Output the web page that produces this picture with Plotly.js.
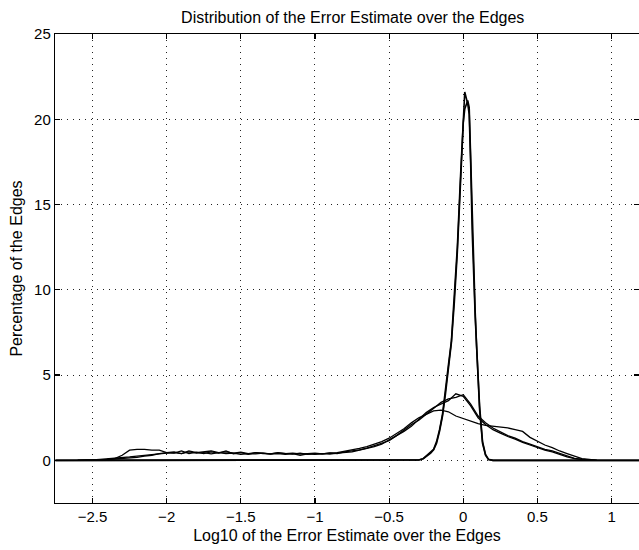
<!DOCTYPE html>
<html><head><meta charset="utf-8">
<script src="https://cdn.plot.ly/plotly-3.0.1.min.js"></script>
<style>html,body{margin:0;padding:0;background:#fff;overflow:hidden}</style>
</head><body><div id="chart" style="width:639px;height:550px"></div>
<script>
// Sharp (narrow) distributions
const sharpX = [-2.75, -0.35, -0.3, -0.27, -0.25, -0.22, -0.2, -0.18, -0.16, -0.14, -0.12, -0.1, -0.08, -0.06, -0.04, -0.02, 0, 0.01, 0.03, 0.04, 0.05, 0.06, 0.08, 0.09, 0.1, 0.11, 0.13, 0.15, 0.17, 0.2, 1.25];
const sharpA = [0, 0, 0.02, 0.1, 0.25, 0.45, 0.65, 1.1, 1.8, 2.7, 4.0, 5.6, 7.0, 9.5, 12.5, 16.4, 20.5, 21.6, 20.9, 20.3, 17.4, 13.5, 8.5, 6.5, 4.5, 3.0, 1.0, 0.3, 0.05, 0, 0];
const sharpB = [0, 0, 0.02, 0.1, 0.22, 0.42, 0.62, 1.0, 1.7, 2.6, 3.9, 5.4, 6.9, 9.3, 12.2, 16.0, 19.8, 20.6, 21.1, 20.7, 17.8, 13.8, 8.8, 6.7, 4.7, 3.2, 1.1, 0.35, 0.06, 0, 0];

// Broad distributions
const broadX = [-2.6, -2.55, -2.5, -2.45, -2.4, -2.35, -2.3, -2.25, -2.2, -2.15, -2.1, -2.05, -2.0, -1.95, -1.9, -1.85, -1.8, -1.75, -1.7, -1.65, -1.6, -1.55, -1.5, -1.45, -1.4, -1.35, -1.3, -1.25, -1.2, -1.15, -1.1, -1.05, -1.0, -0.95, -0.9, -0.85, -0.8, -0.75, -0.7, -0.65, -0.6, -0.55, -0.5, -0.45, -0.4, -0.35, -0.3, -0.25, -0.2, -0.15, -0.1, -0.05, 0, 0.05, 0.1, 0.15, 0.2, 0.25, 0.3, 0.35, 0.4, 0.45, 0.5, 0.55, 0.6, 0.65, 0.7, 0.75, 0.8, 0.85, 0.9];
const broad1 = [0, 0, 0.02, 0.05, 0.08, 0.1, 0.15, 0.2, 0.25, 0.3, 0.32, 0.38, 0.42, 0.45, 0.4, 0.5, 0.42, 0.45, 0.38, 0.45, 0.4, 0.42, 0.35, 0.4, 0.38, 0.42, 0.36, 0.4, 0.35, 0.4, 0.3, 0.38, 0.35, 0.4, 0.36, 0.42, 0.45, 0.5, 0.6, 0.7, 0.8, 0.95, 1.2, 1.4, 1.7, 2.0, 2.4, 2.8, 3.1, 3.3, 3.5, 3.9, 3.75, 3.2, 2.5, 2.1, 1.8, 1.6, 1.4, 1.25, 1.05, 0.9, 0.75, 0.6, 0.5, 0.35, 0.2, 0.1, 0.05, 0.02, 0];
const broad2 = [0, 0, 0.01, 0.03, 0.05, 0.08, 0.1, 0.12, 0.18, 0.25, 0.3, 0.4, 0.45, 0.42, 0.55, 0.4, 0.48, 0.4, 0.5, 0.42, 0.55, 0.38, 0.45, 0.35, 0.45, 0.4, 0.38, 0.44, 0.4, 0.36, 0.42, 0.35, 0.4, 0.38, 0.42, 0.4, 0.5, 0.55, 0.62, 0.72, 0.85, 1.0, 1.15, 1.45, 1.8, 2.1, 2.35, 2.7, 3.0, 3.4, 3.6, 3.7, 3.85, 3.3, 2.6, 2.2, 1.9, 1.65, 1.45, 1.3, 1.1, 0.95, 0.8, 0.65, 0.55, 0.4, 0.25, 0.12, 0.06, 0.02, 0];
const broad3 = [0, 0, 0.02, 0.04, 0.06, 0.1, 0.3, 0.6, 0.65, 0.65, 0.6, 0.6, 0.45, 0.5, 0.4, 0.55, 0.45, 0.5, 0.55, 0.45, 0.5, 0.42, 0.48, 0.4, 0.45, 0.42, 0.38, 0.45, 0.4, 0.42, 0.38, 0.4, 0.42, 0.38, 0.44, 0.45, 0.52, 0.6, 0.7, 0.8, 0.95, 1.1, 1.3, 1.55, 1.85, 2.2, 2.5, 2.7, 2.9, 2.95, 2.85, 2.6, 2.45, 2.3, 2.15, 2.05, 2.0, 1.95, 1.9, 1.8, 1.7, 1.35, 1.1, 0.9, 0.75, 0.55, 0.4, 0.25, 0.1, 0.05, 0];

const tickValsX = [-2.5, -2, -1.5, -1, -0.5, 0, 0.5, 1];
const tickTextX = ['\u22122.5', '\u22122', '\u22121.5', '\u22121', '\u22120.5', '0', '0.5', '1'];
const tickValsY = [0, 5, 10, 15, 20, 25];

const FONT = 'Liberation Sans, Arial, Helvetica, sans-serif';
const line = (w) => ({color: '#000', width: w});
const traces = [
  {x: broadX, y: broad1, mode: 'lines', line: line(1.3), hoverinfo: 'skip'},
  {x: broadX, y: broad2, mode: 'lines', line: line(1.3), hoverinfo: 'skip'},
  {x: broadX, y: broad3, mode: 'lines', line: line(1.3), hoverinfo: 'skip'},
  {x: sharpX, y: sharpA, mode: 'lines', line: line(1.6), hoverinfo: 'skip'},
  {x: sharpX, y: sharpB, mode: 'lines', line: line(1.6), hoverinfo: 'skip'}
];
const axisCommon = {
  showline: true, linecolor: '#000', linewidth: 1.2, mirror: 'ticks',
  ticks: 'inside', ticklen: 5, tickcolor: '#000', tickwidth: 1.2,
  showgrid: true, gridcolor: '#222', gridwidth: 1, griddash: '1px,5px',
  zeroline: false, tickfont: {family: FONT, size: 15, color: '#000'}
};
const layout = {
  width: 639, height: 550,
  margin: {l: 55, r: 0, t: 34, b: 47},
  paper_bgcolor: '#fff', plot_bgcolor: '#fff',
  showlegend: false,
  font: {family: FONT, color: '#000'},
  title: {text: 'Distribution of the Error Estimate over the Edges', font: {family: FONT, size: 16, color: '#000'},
          xref: 'container', x: 0.552, xanchor: 'center', yref: 'container', y: 1 - 17/550, yanchor: 'middle'},
  xaxis: Object.assign({}, axisCommon, {
    range: [-2.753, 1.185], tickvals: tickValsX, ticktext: tickTextX,
    title: {text: 'Log10 of the Error Estimate over the Edges', font: {family: FONT, size: 16, color: '#000'}, standoff: 5}
  }),
  yaxis: Object.assign({}, axisCommon, {
    range: [-2.5, 25], tickvals: tickValsY,
    title: {text: 'Percentage of the Edges', font: {family: FONT, size: 16, color: '#000'}, standoff: 7}
  })
};
Plotly.newPlot('chart', traces, layout, {staticPlot: true, displayModeBar: false});
</script></body></html>
